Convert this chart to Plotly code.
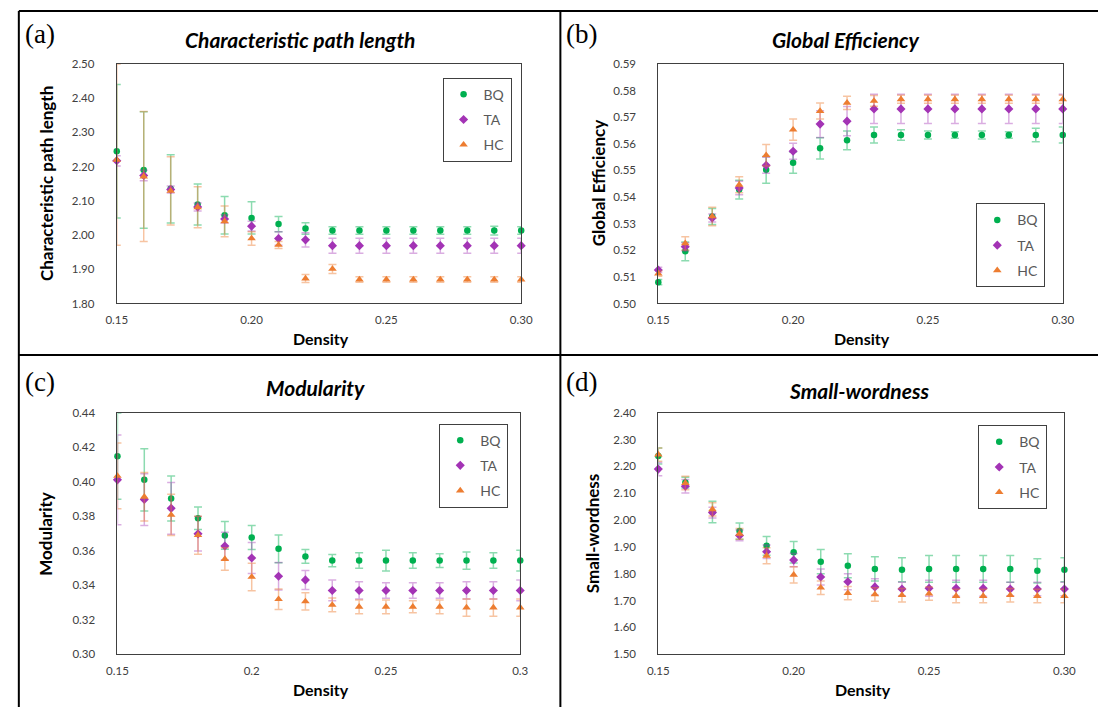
import plotly.graph_objects as go

W, H = 1110, 713

density = [0.15, 0.16, 0.17, 0.18, 0.19, 0.20, 0.21, 0.22, 0.23, 0.24, 0.25, 0.26, 0.27, 0.28, 0.29, 0.30]
series_names = ["BQ", "TA", "HC"]

# (a) Characteristic path length
cpl_bq = [2.245, 2.19, 2.135, 2.089, 2.058, 2.05, 2.032, 2.019, 2.013, 2.013, 2.013, 2.013, 2.013, 2.013, 2.013, 2.013]
cpl_bq_err = [0.195, 0.17, 0.10, 0.06, 0.055, 0.047, 0.022, 0.017, 0.011, 0.011, 0.011, 0.011, 0.011, 0.011, 0.013, 0.011]
cpl_ta = [2.217, 2.174, 2.133, 2.082, 2.047, 2.026, 1.99, 1.986, 1.969, 1.969, 1.969, 1.969, 1.969, 1.969, 1.969, 1.969]
cpl_ta_err = [0.015, 0.015, 0.01, 0.012, 0.012, 0.014, 0.02, 0.021, 0.022, 0.022, 0.022, 0.022, 0.022, 0.022, 0.022, 0.022]
cpl_hc = [2.22, 2.171, 2.129, 2.081, 2.04, 1.99, 1.971, 1.873, 1.901, 1.870, 1.870, 1.870, 1.870, 1.870, 1.870, 1.870]
cpl_hc_err = [0.25, 0.19, 0.10, 0.06, 0.045, 0.02, 0.01, 0.012, 0.013, 0.008, 0.008, 0.008, 0.008, 0.008, 0.008, 0.008]

# (b) Global efficiency
ge_bq = [0.508, 0.5196, 0.5327, 0.5428, 0.5502, 0.5529, 0.5583, 0.5613, 0.5633, 0.5633, 0.5633, 0.5633, 0.5633, 0.5633, 0.5633, 0.5633]
ge_bq_err = [0.001, 0.0035, 0.003, 0.0035, 0.005, 0.004, 0.004, 0.0035, 0.003, 0.002, 0.0015, 0.0012, 0.0015, 0.0012, 0.0025, 0.003]
ge_ta = [0.5126, 0.5213, 0.5321, 0.5434, 0.5519, 0.5572, 0.5674, 0.5685, 0.5731, 0.5731, 0.5731, 0.5731, 0.5731, 0.5731, 0.5731, 0.5731]
ge_ta_err = [0.001, 0.0015, 0.0015, 0.0025, 0.003, 0.003, 0.005, 0.0055, 0.0055, 0.0055, 0.0055, 0.0055, 0.0055, 0.0055, 0.0055, 0.0055]
ge_hc = [0.5112, 0.5226, 0.5327, 0.5446, 0.5557, 0.5653, 0.5723, 0.5754, 0.5761, 0.5767, 0.5767, 0.5767, 0.5767, 0.5767, 0.5767, 0.5767]
ge_hc_err = [0.001, 0.0025, 0.0035, 0.003, 0.004, 0.004, 0.003, 0.0025, 0.002, 0.0015, 0.0015, 0.0015, 0.0015, 0.0015, 0.0015, 0.0015]

# (c) Modularity
mod_bq = [0.4148, 0.4011, 0.3903, 0.3789, 0.3689, 0.3677, 0.3611, 0.3567, 0.3543, 0.3543, 0.3543, 0.3543, 0.3543, 0.3543, 0.3543, 0.3543]
mod_bq_err = [0.025, 0.018, 0.013, 0.0065, 0.008, 0.007, 0.008, 0.004, 0.0035, 0.0045, 0.006, 0.0045, 0.004, 0.005, 0.0045, 0.006]
mod_ta = [0.4011, 0.3897, 0.3846, 0.3698, 0.3628, 0.3558, 0.3452, 0.3431, 0.337, 0.337, 0.337, 0.337, 0.337, 0.337, 0.337, 0.337]
mod_ta_err = [0.026, 0.015, 0.015, 0.01, 0.008, 0.009, 0.008, 0.0055, 0.006, 0.005, 0.0045, 0.0045, 0.0045, 0.005, 0.005, 0.006]
mod_hc = [0.4034, 0.3913, 0.3808, 0.369, 0.3552, 0.3448, 0.3319, 0.3306, 0.3286, 0.3275, 0.3275, 0.3275, 0.3275, 0.3271, 0.3271, 0.3271]
mod_hc_err = [0.019, 0.014, 0.012, 0.011, 0.0065, 0.008, 0.006, 0.005, 0.004, 0.004, 0.004, 0.0035, 0.004, 0.005, 0.005, 0.005]

# (d) Small-wordness
sw_bq = [2.239, 2.14, 2.03, 1.959, 1.904, 1.88, 1.845, 1.83, 1.818, 1.815, 1.818, 1.818, 1.818, 1.818, 1.811, 1.815]
sw_bq_err = [0.03, 0.02, 0.04, 0.03, 0.035, 0.04, 0.045, 0.045, 0.045, 0.045, 0.05, 0.05, 0.05, 0.05, 0.045, 0.045]
sw_ta = [2.19, 2.126, 2.028, 1.943, 1.882, 1.851, 1.788, 1.77, 1.751, 1.743, 1.746, 1.746, 1.746, 1.743, 1.743, 1.743]
sw_ta_err = [0.025, 0.025, 0.02, 0.02, 0.025, 0.025, 0.03, 0.03, 0.03, 0.025, 0.03, 0.03, 0.03, 0.025, 0.025, 0.025]
sw_hc = [2.244, 2.138, 2.04, 1.949, 1.867, 1.796, 1.748, 1.728, 1.723, 1.72, 1.726, 1.717, 1.717, 1.72, 1.717, 1.717]
sw_hc_err = [0.025, 0.025, 0.025, 0.02, 0.03, 0.03, 0.025, 0.025, 0.025, 0.025, 0.025, 0.025, 0.025, 0.025, 0.025, 0.025]

x_tickvals = [0.15, 0.20, 0.25, 0.30]
x_ticktext_2d = ["0.15", "0.20", "0.25", "0.30"]
x_ticktext_c = ["0.15", "0.2", "0.25", "0.3"]

panel_titles = ["Characteristic path length", "Global Efficiency", "Modularity", "Small-wordness"]
panel_letters = ["(a)", "(b)", "(c)", "(d)"]
y_titles = ["Characteristic path length", "Global Efficiency", "Modularity", "Small-wordness"]
y_ranges = [[1.80, 2.50], [0.50, 0.59], [0.30, 0.44], [1.50, 2.40]]
y_dticks = [0.10, 0.01, 0.02, 0.10]

panels = [
    [(cpl_bq, cpl_bq_err), (cpl_ta, cpl_ta_err), (cpl_hc, cpl_hc_err)],
    [(ge_bq, ge_bq_err), (ge_ta, ge_ta_err), (ge_hc, ge_hc_err)],
    [(mod_bq, mod_bq_err), (mod_ta, mod_ta_err), (mod_hc, mod_hc_err)],
    [(sw_bq, sw_bq_err), (sw_ta, sw_ta_err), (sw_hc, sw_hc_err)],
]

marker_colors = ["#00B050", "#A333B5", "#ED7D31"]
err_colors = ["rgba(0,176,80,0.45)", "rgba(163,51,181,0.40)", "rgba(237,125,49,0.45)"]
symbols = ["circle", "diamond", "triangle-up"]
msizes = [6.5, 7, 7.5]

# layout geometry in pixels: (left, right, top, bottom)
boxes = [(108, 521, 58, 302), (661, 1074, 58, 302), (108.7, 520, 413.3, 659.3), (661, 1075.7, 413.3, 659.3)]
legend_pos = [(440.7, 72), (985.7, 200), (437.3, 424.3), (987.7, 426)]
title_pos = [(295, 33), (853, 33), (311, 388), (866, 391)]
letter_pos = [(30, 27), (583, 27), (30, 382), (583, 382)]
ytitle_x = [36, 600, 35, 594]

FONT = "Lato"

fig = go.Figure()

for p, series in enumerate(panels):
    ax = "" if p == 0 else str(p + 1)
    leg = "legend" if p == 0 else f"legend{p + 1}"
    for s, (vals, errs) in enumerate(series):
        ey = dict(type="data", array=errs, visible=True, color=err_colors[s], thickness=1.5, width=4)
        if p == 0 and s == 2:
            plus = list(errs)
            plus[0] = 2.50 - vals[0]
            ey = dict(type="data", symmetric=False, array=plus, arrayminus=errs, visible=True,
                      color=err_colors[s], thickness=1.5, width=4)
        fig.add_trace(go.Scatter(
            x=density, y=vals, mode="markers", name=series_names[s],
            marker=dict(color=marker_colors[s], symbol=symbols[s], size=msizes[s], line=dict(width=0)),
            error_y=ey, cliponaxis=False,
            xaxis="x" + ax, yaxis="y" + ax, legend=leg, legendgroup=f"g{p}{s}",
        ))

layout = dict(
    width=W, height=H, margin=dict(l=0, r=0, t=0, b=0),
    paper_bgcolor="white", plot_bgcolor="white",
    font=dict(family=FONT, color="#404040"),
)

for p in range(4):
    l, r, t, b = boxes[p]
    ax = "" if p == 0 else str(p + 1)
    xt = x_ticktext_c if p == 2 else x_ticktext_2d
    layout["xaxis" + ax] = dict(
        domain=[l / W, r / W], range=[0.15, 0.30], anchor="y" + ax,
        tickvals=x_tickvals, ticktext=xt, showgrid=False, zeroline=False,
        showline=True, linecolor="#404040", linewidth=1, mirror=True, ticks="",
        tickfont=dict(family=FONT, size=11.5, color="#404040"), ticklabelstandoff=6,
    )
    layout["yaxis" + ax] = dict(
        domain=[1 - b / H, 1 - t / H], range=y_ranges[p], anchor="x" + ax,
        dtick=y_dticks[p], tick0=y_ranges[p][0], tickformat=".2f",
        showgrid=False, zeroline=False,
        showline=True, linecolor="#404040", linewidth=1, mirror=True, ticks="",
        tickfont=dict(family=FONT, size=11.5, color="#404040"), ticklabelstandoff=19,
    )
    lx, ly = legend_pos[p]
    leg = "legend" if p == 0 else f"legend{p + 1}"
    layout[leg] = dict(
        x=lx / W, y=1 - ly / H, xanchor="left", yanchor="top",
        bgcolor="white", bordercolor="#404040", borderwidth=1,
        font=dict(family=FONT, size=14, color="#595959"),
        tracegroupgap=4, itemwidth=30,
    )

annotations = []
for p in range(4):
    l, r, t, b = boxes[p]
    tx, ty = title_pos[p]
    annotations.append(dict(
        x=tx / W, y=1 - ty / H, xref="paper", yref="paper", showarrow=False,
        text=f"<b><i>{panel_titles[p]}</i></b>", font=dict(family=FONT, size=21, color="black"),
        xanchor="center", yanchor="middle"))
    lx, lyy = letter_pos[p]
    annotations.append(dict(
        x=lx / W, y=1 - lyy / H, xref="paper", yref="paper", showarrow=False,
        text=panel_letters[p], font=dict(family="Liberation Serif", size=27, color="black"),
        xanchor="center", yanchor="middle"))
    annotations.append(dict(
        x=ytitle_x[p] / W, y=1 - ((t + b) / 2) / H, xref="paper", yref="paper", showarrow=False,
        text=f"<b>{y_titles[p]}</b>", textangle=-90, font=dict(family=FONT, size=17, color="black"),
        xanchor="center", yanchor="middle"))
    annotations.append(dict(
        x=((l + r) / 2 + 2) / W, y=1 - (b + 36) / H, xref="paper", yref="paper", showarrow=False,
        text="<b>Density</b>", font=dict(family=FONT, size=16, color="black"),
        xanchor="center", yanchor="middle"))
layout["annotations"] = annotations

line = dict(color="black", width=2)
layout["shapes"] = [
    dict(type="line", xref="paper", yref="paper", x0=8 / W, x1=1, y0=1 - 4 / H, y1=1 - 4 / H, line=line),
    dict(type="line", xref="paper", yref="paper", x0=8 / W, x1=8 / W, y0=0, y1=1 - 4 / H, line=line),
    dict(type="line", xref="paper", yref="paper", x0=561 / W, x1=561 / W, y0=0, y1=1 - 4 / H, line=line),
    dict(type="line", xref="paper", yref="paper", x0=8 / W, x1=1, y0=1 - 354.5 / H, y1=1 - 354.5 / H, line=line),
]

fig.update_layout(**layout)
fig.write_html("out.html")
